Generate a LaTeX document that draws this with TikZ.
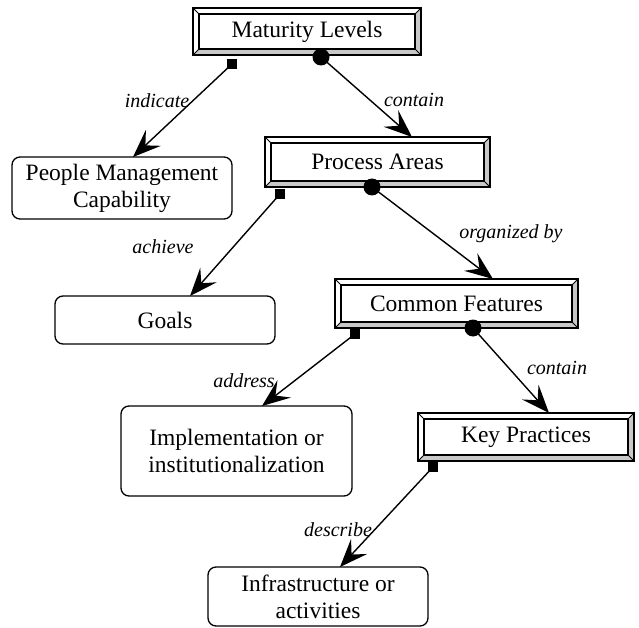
\documentclass[tikz,border=0pt]{standalone}
\usepackage{fontspec}
\setmainfont{Liberation Serif}
\usetikzlibrary{arrows.meta,calc}
\definecolor{bevgray}{RGB}{200,200,200}
\newcommand\bevelframe[1]{%
  \path[fill=white] (#1.north west) -- (#1.north east) -- ($(#1.north east)+(-6,6)$) -- ($(#1.north west)+(6,6)$) -- cycle;
  \path[fill=white] (#1.north west) -- ($(#1.north west)+(6,6)$) -- ($(#1.south west)+(6,-6)$) -- (#1.south west) -- cycle;
  \path[fill=bevgray] (#1.north east) -- (#1.south east) -- ($(#1.south east)+(-6,-6)$) -- ($(#1.north east)+(-6,6)$) -- cycle;
  \path[fill=bevgray] (#1.south west) -- (#1.south east) -- ($(#1.south east)+(-6,-6)$) -- ($(#1.south west)+(6,-6)$) -- cycle;
  \draw[line width=1.1pt] ($(#1.north west)+(6,6)$) rectangle ($(#1.south east)+(-6,-6)$);
  \draw[line width=0.9pt] (#1.north west) -- ($(#1.north west)+(6,6)$)
        (#1.north east) -- ($(#1.north east)+(-6,6)$)
        (#1.south east) -- ($(#1.south east)+(-6,-6)$)
        (#1.south west) -- ($(#1.south west)+(6,-6)$);
  \draw[line width=1.6pt] (#1.north west) rectangle (#1.south east);
}
\tikzset{
  bevelnode/.style={rectangle, inner sep=0pt, outer sep=0pt, font=\fontsize{23.5}{27}\selectfont},
  roundnode/.style={rectangle, rounded corners=8pt, draw, line width=1.3pt, inner sep=0pt, outer sep=0pt, align=center, font=\fontsize{23.5}{27}\selectfont},
  sqmark/.style={rectangle, fill=black, minimum size=10pt, inner sep=0pt},
  dotmark/.style={circle, fill=black, minimum size=17pt, inner sep=0pt},
  conn/.style={line width=1.4pt, -{Stealth[length=28pt,width=22pt,inset=11pt]}},
  lbl/.style={font=\fontsize{20}{24}\selectfont\itshape, inner sep=1pt}
}
\begin{document}
\begin{tikzpicture}[x=1pt,y=-1pt]
\useasboundingbox (0,0) rectangle (639,628);
% beveled boxes
\node[bevelnode, minimum width=228pt, minimum height=47pt] (ml) at (307,31.5) {};
\bevelframe{ml}
\node[bevelnode] at (ml) {Maturity Levels};
\node[bevelnode, minimum width=225pt, minimum height=50pt] (pa) at (377.5,162) {};
\bevelframe{pa}
\node[bevelnode] at (pa) {Process Areas};
\node[bevelnode, minimum width=243pt, minimum height=49pt] (cf) at (456.5,303.5) {};
\bevelframe{cf}
\node[bevelnode] at (cf) {Common Features};
\node[bevelnode, minimum width=216pt, minimum height=48pt] (kp) at (526,437) {};
\bevelframe{kp}
\node[bevelnode] at (kp) {Key Practices};
% rounded boxes
\node[roundnode, minimum width=220pt, minimum height=62pt] (pm) at (122,188) {People Management\\Capability};
\node[roundnode, minimum width=220pt, minimum height=48pt] (go) at (165,320) {Goals};
\node[roundnode, minimum width=231pt, minimum height=90pt] (im) at (236.5,451) {Implementation or\\institutionalization};
\node[roundnode, minimum width=220pt, minimum height=59pt] (in) at (318,596.5) {Infrastructure or\\activities};
% markers
\node[sqmark] (m1) at (232,64) {};
\node[dotmark] (d1) at (321,57) {};
\node[sqmark] (m2) at (280,194) {};
\node[dotmark] (d2) at (372,187) {};
\node[sqmark] (m3) at (355,334) {};
\node[dotmark] (d3) at (473,328) {};
\node[sqmark] (m4) at (433,467) {};
% connectors
\draw[conn] (m1.center) -- ([xshift=11pt]pm.north);
\draw[conn] (d1.center) -- ([xshift=34.5pt]pa.north);
\draw[conn] (m2.center) -- ([xshift=25pt]go.north);
\draw[conn] (d2.center) -- ([xshift=36.5pt]cf.north);
\draw[conn] (m3.center) -- ([xshift=25.5pt]im.north);
\draw[conn] (d3.center) -- ([xshift=23pt]kp.north);
\draw[conn] (m4.center) -- ([xshift=22pt]in.north);
% labels
\node[lbl] (l1) at (157,101) {indicate};
\node[lbl] (l2) at (414,100) {contain};
\node[lbl] (l3) at (163,247) {achieve};
\node[lbl] (l4) at (511,234) {organized by};
\node[lbl] (l5) at (244,381) {address};
\node[lbl] (l6) at (557,368) {contain};
\node[lbl] (l7) at (338,530) {describe};
\end{tikzpicture}
\end{document}
